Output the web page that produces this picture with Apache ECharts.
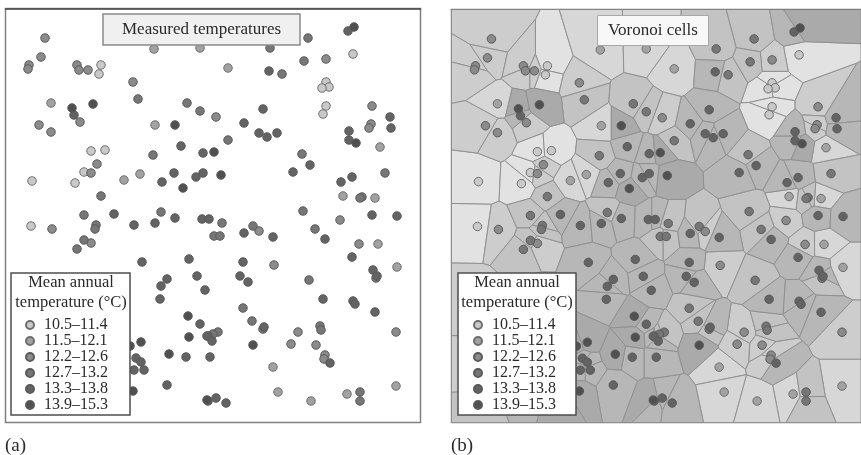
<!DOCTYPE html>
<html><head><meta charset="utf-8">
<style>html,body{margin:0;padding:0;background:#fff}#c{width:861px;height:455px;filter:blur(0.35px)}</style>
<script src="https://cdn.jsdelivr.net/npm/echarts@6/dist/echarts.min.js"></script>
</head><body><div id="c"></div>
<script>
const classNames = ['10.5–11.4','11.5–12.1','12.2–12.6','12.7–13.2','13.3–13.8','13.9–15.3'];
const pointColors = ['#c9c9c9','#a2a2a2','#8b8b8b','#767676','#636363','#505050'];
const cellColors = ['#e2e2e2','#d7d7d7','#cdcdcd','#c3c3c3','#b7b7b7','#aaaaaa'];
const class1 = [[101,65],[99,74],[91,151],[105,150],[84,172],[32,181],[75,183],[31,226],[353,54],[326,82],[329,87],[322,88],[326,106],[323,114]];
const class2 = [[154,49],[200,48],[51,103],[155,125],[124,180],[140,174],[228,68],[380,147],[343,196],[375,198],[378,244],[397,267],[273,367],[278,392],[347,394],[396,386],[311,401]];
const class3 = [[45,38],[41,57],[29,65],[28,69],[77,65],[79,70],[88,70],[133,82],[80,122],[39,125],[51,132],[97,164],[91,173],[52,229],[91,243],[326,59],[372,106],[371,124],[369,128],[216,117],[340,220],[259,231],[359,244],[274,265],[298,332],[396,332],[291,344],[316,345],[325,355],[324,359],[30,300],[28,372]];
const class4 = [[138,99],[187,103],[200,111],[153,155],[101,196],[84,215],[161,212],[96,225],[95,229],[84,240],[77,249],[308,38],[304,61],[270,48],[282,74],[228,140],[302,154],[385,173],[362,197],[360,198],[303,211],[222,223],[253,226],[214,236],[220,236],[315,229],[376,278],[309,280],[243,308],[252,321],[263,329],[320,326],[321,330],[218,332],[213,334],[208,336],[360,392],[360,401],[90,300],[62,340],[30,410]];
const class5 = [[74,115],[181,146],[203,153],[162,182],[174,173],[196,177],[203,173],[114,214],[175,218],[202,219],[209,219],[134,225],[155,223],[142,262],[189,259],[167,279],[161,286],[197,276],[205,290],[160,299],[200,324],[207,336],[136,358],[141,362],[134,370],[144,370],[186,357],[167,385],[348,31],[269,71],[349,131],[349,140],[390,117],[391,128],[263,109],[244,123],[259,133],[267,137],[277,133],[310,165],[293,172],[352,177],[341,182],[372,215],[397,216],[244,233],[273,237],[325,239],[352,257],[243,262],[373,270],[377,276],[240,276],[248,282],[323,299],[353,301],[355,304],[375,312],[264,327],[212,341],[210,357],[330,363],[216,398],[208,401],[226,403],[110,350],[80,392]];
const class6 = [[72,108],[93,104],[175,125],[183,188],[188,316],[189,337],[141,342],[130,346],[169,354],[133,391],[207,400],[354,27],[356,143],[214,152],[221,175],[253,345],[115,402]];
const classes = [class1,class2,class3,class4,class5,class6];
const panelA = {left:5.5, top:8.5, width:415, height:414, xMin:5.5, xMax:420.5, yMin:8.5, yMax:422.5};
const panelB = {left:451.5, top:9.5, width:410, height:413, xMin:5, xMax:415, yMin:8.5, yMax:422.5};
const allSeeds = classes.flatMap((pts,c)=>pts.map(p=>({p,c})));

function clip(poly, a, s){ // keep the part of poly nearer to a than to s
  const mx=(a[0]+s[0])/2,my=(a[1]+s[1])/2,nx=s[0]-a[0],ny=s[1]-a[1];
  const d=q=>(q[0]-mx)*nx+(q[1]-my)*ny, out=[];
  for(let i=0;i<poly.length;i++){
    const u=poly[i],v=poly[(i+1)%poly.length],du=d(u),dv=d(v);
    if(du<=0) out.push(u);
    if((du<0&&dv>0)||(du>0&&dv<0)){const t=du/(du-dv);out.push([u[0]+t*(v[0]-u[0]),u[1]+t*(v[1]-u[1])]);}
  }
  return out;
}
function cellOf(a){
  let poly=[[panelB.xMin,panelB.yMin],[panelB.xMax,panelB.yMin],[panelB.xMax,panelB.yMax],[panelB.xMin,panelB.yMax]];
  for(const o of allSeeds){ if(o.p!==a) poly=clip(poly,a,o.p); if(!poly.length) break; }
  return poly;
}
const axisBase={type:'value',axisTick:{show:false},axisLabel:{show:false},splitLine:{show:false}};
function axes(P,i){return {
  x:{...axisBase,gridIndex:i,min:P.xMin,max:P.xMax,position:'top',axisLine:{show:true,onZero:false,lineStyle:{color:'#474747',width:1.5}}},
  y:{...axisBase,gridIndex:i,min:P.yMin,max:P.yMax,inverse:true,axisLine:{show:false}}
};}
const A=axes(panelA,0),B=axes(panelB,1);
const series=[];
classes.forEach((pts,c)=>{
  series.push({type:'custom',name:'cells'+c,xAxisIndex:1,yAxisIndex:1,z:1,silent:true,animation:false,clip:true,
    data:pts,encode:{x:0,y:1},
    renderItem(params,api){
      const poly=cellOf(pts[params.dataIndex]).map(q=>api.coord(q));
      return {type:'polygon',shape:{points:poly},style:{fill:cellColors[c],stroke:'#919191',lineWidth:1}};
    }});
});
[0,1].forEach(k=>classes.forEach((pts,c)=>{
  series.push({type:'scatter',name:classNames[c],xAxisIndex:k,yAxisIndex:k,z:3,silent:true,animation:false,
    data:pts,symbolSize:8.5,itemStyle:{color:pointColors[c],opacity:1,borderColor:c<2?'#6e6e6e':'#5a5a5a',borderWidth:1}});
}));
const serif='"Liberation Serif",serif';
const legendBase={orient:'vertical',selectedMode:false,data:classNames,icon:'circle',itemWidth:8,itemHeight:8,itemGap:0,padding:0,z:300,
  textStyle:{fontFamily:serif,fontSize:16,color:'#2a2a2a',lineHeight:14,padding:[0,0,0,5]}};
const box=(x,y,w,h,stroke)=>({type:'rect',z:200,shape:{x,y,width:w,height:h},style:{fill:'#fff',stroke,lineWidth:1.5}});
const txt=(x,y,t,size,align)=>({type:'text',z:210,x,y,style:{text:t,font:size+'px '+serif,fill:'#2a2a2a',align:align||'center',verticalAlign:'middle'}});
const chart=echarts.init(document.getElementById('c'),null,{renderer:'canvas'});
chart.setOption({
  backgroundColor:'#fff',animation:false,
  grid:[panelA,panelB].map(P=>({left:P.left,top:P.top,width:P.width,height:P.height,show:true,borderColor:'#808080',borderWidth:1.5,backgroundColor:'transparent',containLabel:false})),
  xAxis:[A.x,B.x],yAxis:[A.y,B.y],series,
  title:[
    {text:'Measured temperatures',left:103,top:14,padding:[7,19,7,19],backgroundColor:'#f0f0f0',borderColor:'#8a8a8a',borderWidth:1.5,z:200,textStyle:{fontFamily:serif,fontSize:17,fontWeight:'normal',color:'#2a2a2a'}},
    {text:'Voronoi cells',left:597,top:15,padding:[7,11,7,11],backgroundColor:'#f8f8f8',borderColor:'#a8a8a8',borderWidth:1,z:200,textStyle:{fontFamily:serif,fontSize:17,fontWeight:'normal',color:'#2a2a2a'}}
  ],
  legend:[{...legendBase,left:25,top:317},{...legendBase,left:473,top:317}],
  graphic:[
    box(11,273,119,142,'#4d4d4d'),box(458,273,118,142,'#4d4d4d'),
    txt(71,283,'Mean annual',16.5),txt(71,303,'temperature (°C)',16.5),
    txt(517,283,'Mean annual',16.5),txt(517,303,'temperature (°C)',16.5),
    txt(5,446,'(a)',19,'left'),txt(451,446,'(b)',19,'left')
  ]
});
</script></body></html>
